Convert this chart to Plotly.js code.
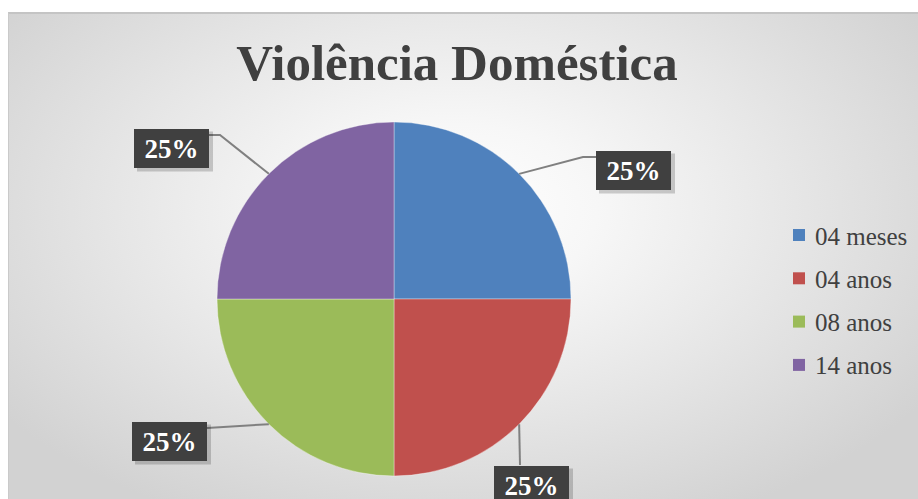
<!DOCTYPE html>
<html>
<head>
<meta charset="utf-8">
<script src="https://cdn.plot.ly/plotly-3.0.1.min.js"></script>
<style>
html,body{margin:0;padding:0;background:#ffffff;}
#wrap{position:relative;width:918px;height:499px;overflow:hidden;}
#bg{position:absolute;left:8px;top:12px;width:912px;height:490px;
  border-top:2px solid #c4c4c4;border-left:1px solid #cacaca;
  background:radial-gradient(ellipse 62% 70% at 49% 40%, #ffffff 0%, #f7f7f7 25%, #e6e6e6 60%, #d2d2d2 100%);}
#chart{position:absolute;left:0;top:0;width:918px;height:499px;}
</style>
</head>
<body>
<div id="wrap"><div id="bg"></div><div id="chart"></div></div>
<script>
// ---- data ----
const categories = ['04 meses', '04 anos', '08 anos', '14 anos'];
const values = [1, 1, 1, 1];
const colors = ['#4F81BD', '#C0504D', '#9BBB59', '#8064A2'];
const chartTitle = 'Violência Doméstica';

// ---- layout helpers ----
const W = 918, H = 499;
const px = x => x / W;
const py = y => 1 - y / H;
const pie = {cx: 394, cy: 299, r: 177};

// label box placement (pixels): box center, elbow point, line end on box
const labelLayout = [
  {bx: 633.5, by: 170, elbow: [583, 157], end: [596, 157]},
  {bx: 531.5, by: 485, elbow: null, end: [520, 465]},
  {bx: 169.5, by: 441, elbow: null, end: [207, 428]},
  {bx: 171.5, by: 148, elbow: [220, 135], end: [209, 135]}
];

const total = values.reduce((a, b) => a + b, 0);
const shapes = [];
const annotations = [];
let cum = 0;
values.forEach((v, i) => {
  const mid = (cum + v / 2) / total * 2 * Math.PI;
  cum += v;
  const ax = pie.cx + pie.r * Math.sin(mid);
  const ay = pie.cy - pie.r * Math.cos(mid);
  const L = labelLayout[i];
  let path = `M ${px(ax)} ${py(ay)}`;
  if (L.elbow) path += ` L ${px(L.elbow[0])} ${py(L.elbow[1])}`;
  path += ` L ${px(L.end[0])} ${py(L.end[1])}`;
  shapes.push({type: 'path', xref: 'paper', yref: 'paper', path: path,
    line: {color: '#808080', width: 2}});
  // shadow
  shapes.push({type: 'rect', xref: 'paper', yref: 'paper',
    x0: px(L.bx - 37.5 + 3), x1: px(L.bx + 37.5 + 4), y0: py(L.by + 19.5 + 4), y1: py(L.by - 19.5 + 3),
    fillcolor: 'rgba(0,0,0,0.18)', line: {width: 0}});
  const pct = Math.round(v / total * 100) + '%';
  annotations.push({xref: 'paper', yref: 'paper', x: px(L.bx), y: py(L.by),
    xanchor: 'center', yanchor: 'middle', showarrow: false,
    text: '<b>' + pct + '</b>', width: 75, height: 39, borderpad: 0, borderwidth: 0,
    bgcolor: '#404040', align: 'center', valign: 'middle',
    font: {family: 'Liberation Serif, serif', size: 27, color: '#ffffff'}});
});

// manual legend
const legX = 799, legY0 = 235, legDY = 43.3;
categories.forEach((c, i) => {
  const y = legY0 + i * legDY;
  shapes.push({type: 'rect', xref: 'paper', yref: 'paper',
    x0: px(legX - 6), x1: px(legX + 6), y0: py(y + 6), y1: py(y - 6),
    fillcolor: colors[i], line: {width: 0}});
  annotations.push({xref: 'paper', yref: 'paper', x: px(813), y: py(y + 1),
    xanchor: 'left', yanchor: 'middle', showarrow: false, text: c,
    font: {family: 'Liberation Serif, serif', size: 25, color: '#404040'}});
});

const trace = {
  type: 'pie', labels: categories, values: values, sort: false,
  direction: 'clockwise', rotation: 0, textinfo: 'none', hoverinfo: 'label+percent',
  marker: {colors: colors, line: {color: 'rgba(255,255,255,0.35)', width: 1}},
  domain: {x: [px(pie.cx - pie.r), px(pie.cx + pie.r)], y: [py(pie.cy + pie.r), py(pie.cy - pie.r)]},
  showlegend: false
};

const layout = {
  width: W, height: H,
  margin: {l: 0, r: 0, t: 0, b: 0},
  paper_bgcolor: 'rgba(0,0,0,0)', plot_bgcolor: 'rgba(0,0,0,0)',
  title: {text: '<b>' + chartTitle + '</b>', x: px(457), xanchor: 'center', xref: 'paper',
    y: py(62), yanchor: 'middle', yref: 'paper',
    font: {family: 'Liberation Serif, serif', size: 51, color: '#404040'}},
  showlegend: false,
  shapes: shapes, annotations: annotations
};

Plotly.newPlot('chart', [trace], layout, {displayModeBar: false, staticPlot: true});
</script>
</body>
</html>
